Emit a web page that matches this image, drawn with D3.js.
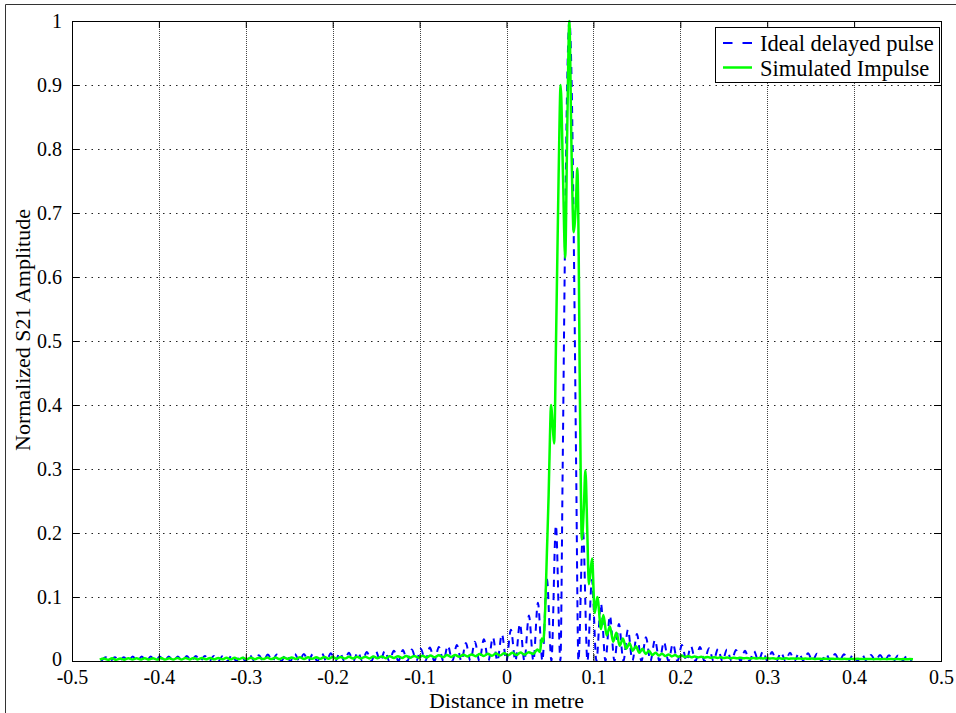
<!DOCTYPE html>
<html>
<head>
<meta charset="utf-8">
<script src="https://cdnjs.cloudflare.com/ajax/libs/d3/7.8.5/d3.min.js"></script>
<style>
    body { margin: 0; background: #fff; }
    text { font-family: "Liberation Serif", "DejaVu Serif", serif; fill: #000; }
</style>
</head>
<body>
<div class="chart"></div>
<script>
//########################  1.  Data  ########################################################//

var xTicks = [-0.5, -0.4, -0.3, -0.2, -0.1, 0, 0.1, 0.2, 0.3, 0.4, 0.5];
var yTicks = [0, 0.1, 0.2, 0.3, 0.4, 0.5, 0.6, 0.7, 0.8, 0.9, 1];
var seriesNames = ["Ideal delayed pulse", "Simulated Impulse"];
var xTitle = "Distance in metre";
var yTitle = "Normalized S21 Amplitude";

// ideal pulse: |sinc| shaped, main lobe at blueCenter, lobes blueLobe wide
var blueCenter = 0.0724;
var blueLobe = 0.01036;
// main lobe sampled every quarter lobe, from -1 lobe to +1 lobe
var blueMainLobe = [0, 0.30, 0.64, 0.90, 1, 0.90, 0.64, 0.30, 0];
// side lobe peak heights, nearest lobe first
var blueLeftPeaks = [0.212, 0.128, 0.091, 0.071, 0.058, 0.049, 0.042, 0.037, 0.034, 0.030,
    0.028, 0.025, 0.024, 0.022, 0.021, 0.019, 0.018, 0.017, 0.016, 0.016,
    0.015, 0.014, 0.014, 0.013, 0.013, 0.012, 0.012, 0.011, 0.011, 0.011,
    0.010, 0.010, 0.010, 0.009, 0.009, 0.009, 0.009, 0.008, 0.008, 0.008,
    0.008, 0.008, 0.007, 0.007, 0.007, 0.007, 0.007, 0.007, 0.006, 0.006,
    0.006];
var blueRightPeaks = [0.205, 0.127, 0.090, 0.071, 0.058, 0.049, 0.042, 0.037, 0.033, 0.030,
    0.027, 0.025, 0.023, 0.022, 0.020, 0.019, 0.018, 0.017, 0.016, 0.0155,
    0.015, 0.014, 0.0135, 0.013, 0.0125, 0.012, 0.0115, 0.011, 0.0108, 0.0105,
    0.010, 0.0098, 0.0095, 0.0092, 0.009, 0.0087, 0.0085];

// simulated impulse, low ripple left of the pulse (trough / crest every half ripple)
var greenLeftStart = -0.468;
var greenLeftStep = 0.0047;
var greenLeft = [0.002, 0.004, 0.002, 0.0042, 0.002, 0.004, 0.0021, 0.0043, 0.0022, 0.0042,
    0.0022, 0.0044, 0.0022, 0.0043, 0.0023, 0.0045, 0.0023, 0.0044, 0.0024, 0.0046,
    0.0024, 0.0046, 0.0025, 0.0047, 0.0025, 0.0046, 0.0026, 0.0048, 0.0026, 0.0048,
    0.0027, 0.0049, 0.0027, 0.005, 0.0028, 0.005, 0.0028, 0.0051, 0.0029, 0.0052,
    0.003, 0.0053, 0.003, 0.0053, 0.0031, 0.0055, 0.0032, 0.0056, 0.0032, 0.0057,
    0.0033, 0.0058, 0.0034, 0.006, 0.0035, 0.0061, 0.0036, 0.0062, 0.0037, 0.0064,
    0.0038, 0.0065, 0.0039, 0.0067, 0.004, 0.0068, 0.0041, 0.007, 0.0043, 0.0072,
    0.0044, 0.0074, 0.0046, 0.0076, 0.0048, 0.0078, 0.005, 0.008, 0.0052, 0.0083,
    0.0054, 0.0086, 0.0057, 0.0089, 0.006, 0.0092, 0.0063, 0.0095, 0.0066, 0.0099,
    0.007, 0.0103, 0.0074, 0.0108, 0.0078, 0.0113, 0.0082, 0.0118, 0.0086, 0.0122,
    0.009, 0.0127, 0.0094, 0.0132, 0.0098, 0.0138];

// simulated impulse around the pulse
var greenPeakX = [0.031, 0.0355, 0.0385, 0.0405, 0.0422, 0.0445, 0.0465, 0.0485, 0.0500, 0.0512,
    0.0535, 0.0548, 0.0570, 0.0600, 0.0623, 0.0650, 0.0675, 0.0700, 0.0723, 0.0748,
    0.0773, 0.0800, 0.0815, 0.0830, 0.0842, 0.0853, 0.0867, 0.0890, 0.0908, 0.0930,
    0.0948, 0.0985, 0.1015, 0.1045, 0.1088];
var greenPeakY = [0.011, 0.018, 0.014, 0.035, 0.030, 0.080, 0.170, 0.260, 0.350, 0.400,
    0.360, 0.340, 0.500, 0.760, 0.900, 0.760, 0.630, 0.840, 1.000, 0.800,
    0.670, 0.720, 0.770, 0.650, 0.450, 0.300, 0.190, 0.240, 0.298, 0.200,
    0.120, 0.160, 0.075, 0.100, 0.050];

// simulated impulse, decaying ripple right of the pulse (crest / trough every half ripple)
var greenRightStart = 0.1115;
var greenRightStep = 0.00375;
var greenRight = [0.072, 0.040, 0.054, 0.030, 0.044, 0.024, 0.035, 0.019, 0.028, 0.016,
    0.023, 0.013, 0.019, 0.011, 0.016, 0.0095, 0.013, 0.0085, 0.0115, 0.0078,
    0.0102, 0.0072, 0.0092, 0.0066, 0.0085, 0.0062, 0.0078, 0.0058, 0.0072, 0.0055,
    0.0068, 0.0052, 0.0064, 0.005, 0.006, 0.0048, 0.0057, 0.0046, 0.0054, 0.0044,
    0.0052, 0.0043, 0.0050, 0.0042, 0.0048, 0.0041, 0.0047, 0.0040, 0.0046, 0.0039,
    0.0045, 0.0038, 0.0044, 0.0037, 0.0043, 0.0036, 0.0042, 0.0036, 0.0041, 0.0035,
    0.0040, 0.0034, 0.0039, 0.0034, 0.0038, 0.0033, 0.0037, 0.0033, 0.0036, 0.0032,
    0.0036, 0.0032, 0.0035, 0.0031, 0.0035, 0.0031, 0.0034, 0.0030, 0.0034, 0.0030,
    0.0033, 0.0030, 0.0033, 0.0029, 0.0032, 0.0029, 0.0032, 0.0029, 0.0031, 0.0028,
    0.0031, 0.0028, 0.0030, 0.0028, 0.0030, 0.0027];


//########################  2.  Build the two series  ###################################//

// ideal pulse goes back to zero between every lobe
var bluePoints = [];
for (var k = blueLeftPeaks.length; k >= 1; k--) {
    bluePoints.push([blueCenter - (k + 1) * blueLobe, 0]);
    bluePoints.push([blueCenter - (k + 0.5) * blueLobe, blueLeftPeaks[k - 1]]);
}
blueMainLobe.forEach(function (v, i) {
    bluePoints.push([blueCenter + (i - 4) * blueLobe / 4, v]);
});
for (var k = 1; k <= blueRightPeaks.length; k++) {
    bluePoints.push([blueCenter + (k + 0.5) * blueLobe, blueRightPeaks[k - 1]]);
    bluePoints.push([blueCenter + (k + 1) * blueLobe, 0]);
}

var greenPoints = [];
greenLeft.forEach(function (v, i) { greenPoints.push([greenLeftStart + i * greenLeftStep, v]); });
greenPeakX.forEach(function (x, i) { greenPoints.push([x, greenPeakY[i]]); });
greenRight.forEach(function (v, i) { greenPoints.push([greenRightStart + i * greenRightStep, v]); });


//########################  3.  SVG Setup ###################################//

var svgWidth = 956;
var svgHeight = 713;

var margin = { top: 21, right: 15, bottom: 52, left: 72 };
var width = svgWidth - margin.left - margin.right;    // 869
var height = svgHeight - margin.top - margin.bottom;  // 640

var svg = d3.select(".chart")
    .append("svg")
    .attr("width", svgWidth)
    .attr("height", svgHeight);

// figure frame (left and top edge visible in the picture)
svg.append("path")
    .attr("d", "M5.5,713 V4.5 H956")
    .attr("fill", "none")
    .attr("stroke", "#333")
    .attr("stroke-width", 1);

var chartGroup = svg.append("g")
    .attr("transform", `translate(${margin.left}, ${margin.top})`);

var xScale = d3.scaleLinear().domain([-0.5, 0.5]).range([0, width]);
var yScale = d3.scaleLinear().domain([0, 1]).range([height, 0]);


//########################  4.  Grid  ###################################//

chartGroup.append("g")
    .selectAll("line")
    .data(xTicks.slice(1, -1))
    .enter()
    .append("line")
    .attr("x1", d => Math.round(xScale(d)) + 0.5)
    .attr("x2", d => Math.round(xScale(d)) + 0.5)
    .attr("y1", 0)
    .attr("y2", height)
    .attr("stroke", "#444")
    .attr("stroke-dasharray", "1,1");

chartGroup.append("g")
    .selectAll("line")
    .data(yTicks.slice(1, -1))
    .enter()
    .append("line")
    .attr("x1", 0)
    .attr("x2", width)
    .attr("y1", d => Math.round(yScale(d)) + 0.5)
    .attr("y2", d => Math.round(yScale(d)) + 0.5)
    .attr("stroke", "#222")
    .attr("stroke-dasharray", "1.5,5");


//########################  5.  Lines  ###################################//

var line = d3.line()
    .x(d => xScale(d[0]))
    .y(d => yScale(d[1]))
    .curve(d3.curveMonotoneX);

chartGroup.append("path")
    .datum(bluePoints)
    .attr("d", line)
    .attr("fill", "none")
    .attr("stroke", "#0000ff")
    .attr("stroke-width", 2)
    .attr("stroke-dasharray", "7,6");

chartGroup.append("path")
    .datum(greenPoints)
    .attr("d", line)
    .attr("fill", "none")
    .attr("stroke", "#00ff00")
    .attr("stroke-width", 2.5)
    .attr("stroke-linejoin", "round");


//########################  6.  Axes (ticks inside, box)  ###################################//

var fmt = d => String(d);

var bottomAxis = d3.axisBottom(xScale).tickValues(xTicks).tickFormat(fmt)
    .tickSizeInner(-7).tickSizeOuter(0).tickPadding(9);
var topAxis = d3.axisTop(xScale).tickValues(xTicks).tickFormat("")
    .tickSizeInner(-7).tickSizeOuter(0);
var leftAxis = d3.axisLeft(yScale).tickValues(yTicks).tickFormat(fmt)
    .tickSizeInner(-7).tickSizeOuter(0).tickPadding(10);
var rightAxis = d3.axisRight(yScale).tickValues(yTicks).tickFormat("")
    .tickSizeInner(-7).tickSizeOuter(0);

var xAxisG = chartGroup.append("g").attr("transform", `translate(0, ${height})`).call(bottomAxis);
chartGroup.append("g").call(topAxis);
var yAxisG = chartGroup.append("g").call(leftAxis);
chartGroup.append("g").attr("transform", `translate(${width}, 0)`).call(rightAxis);

chartGroup.selectAll(".domain").remove();
chartGroup.selectAll(".tick line").attr("stroke", "#000");
chartGroup.selectAll(".tick text")
    .style("font-family", "'Liberation Serif', serif")
    .style("font-size", "20px")
    .attr("fill", "#000");

// the "0" of the y axis sits just above the "-0.5" of the x axis
yAxisG.selectAll(".tick text").filter(d => d === 0).attr("dy", "0.2em");

chartGroup.append("rect")
    .attr("x", 0.5)
    .attr("y", 0.5)
    .attr("width", width)
    .attr("height", height)
    .attr("fill", "none")
    .attr("stroke", "#000")
    .attr("stroke-width", 1);


//########################  7.  Titles  ###################################//

svg.append("text")
    .attr("x", margin.left + width / 2)
    .attr("y", 708)
    .attr("text-anchor", "middle")
    .style("font-size", "22px")
    .text(xTitle);

svg.append("text")
    .attr("transform", "translate(30, 330) rotate(-90)")
    .attr("text-anchor", "middle")
    .style("font-size", "22px")
    .text(yTitle);


//########################  8.  Legend  ###################################//

var legend = svg.append("g");

legend.append("rect")
    .attr("x", 715.5)
    .attr("y", 27.5)
    .attr("width", 224)
    .attr("height", 55)
    .attr("fill", "#fff")
    .attr("stroke", "#000");

legend.append("line")
    .attr("x1", 723).attr("x2", 752)
    .attr("y1", 43).attr("y2", 43)
    .attr("stroke", "#0000ff")
    .attr("stroke-width", 2)
    .attr("stroke-dasharray", "9.5,10");

legend.append("line")
    .attr("x1", 723).attr("x2", 752)
    .attr("y1", 67.5).attr("y2", 67.5)
    .attr("stroke", "#00ff00")
    .attr("stroke-width", 2.5);

legend.selectAll("text.lg")
    .data(seriesNames)
    .enter()
    .append("text")
    .attr("class", "lg")
    .attr("x", 760)
    .attr("y", (d, i) => 50.5 + i * 25)
    .style("font-size", "22.5px")
    .text(d => d);
</script>
</body>
</html>
